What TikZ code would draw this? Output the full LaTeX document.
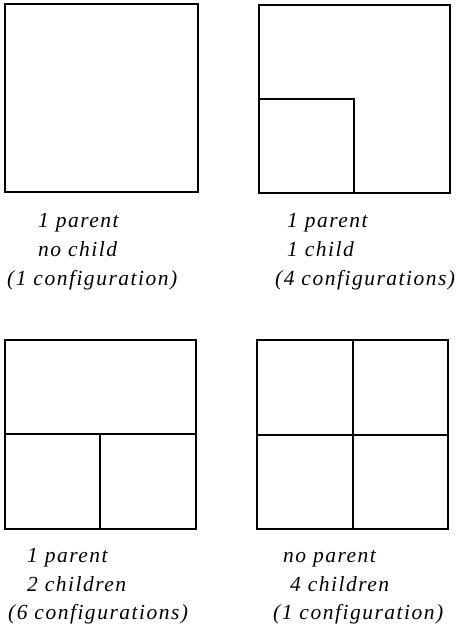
\documentclass[tikz,border=0pt]{standalone}
\usepackage{fontspec}
\newfontfamily\lblfont[LetterSpace=7]{Liberation Serif}
\begin{document}
\begin{tikzpicture}[x=1pt,y=-1pt,
  frame/.style={line width=1.1pt,draw=black},
  lbl/.style={anchor=base west,inner sep=0pt,font=\lblfont\itshape\fontsize{21.5}{26}\selectfont}]
\useasboundingbox (0,0) rectangle (465,628);
% top-left
\draw[frame] (5,4) rectangle (198,192);
% top-right
\draw[frame] (259,5) rectangle (450,193);
\draw[frame] (259,99) -- (354,99) -- (354,193);
% bottom-left
\draw[frame] (5,340) rectangle (196,529);
\draw[frame] (5,434) -- (196,434);
\draw[frame] (100,434) -- (100,529);
% bottom-right
\draw[frame] (257,340) rectangle (448,529);
\draw[frame] (257,435) -- (448,435);
\draw[frame] (353,340) -- (353,529);
% labels
\node[lbl] (a1) at (38,227) {1 parent};
\node[lbl] (a2) at (38,256) {no child};
\node[lbl] (a3) at (7,285) {(1 configuration)};
\node[lbl] (b1) at (287,227) {1 parent};
\node[lbl] (b2) at (287,256) {1 child};
\node[lbl] (b3) at (275,285) {(4 configurations)};
\node[lbl] (c1) at (27,562) {1 parent};
\node[lbl] (c2) at (27,591) {2 children};
\node[lbl] (c3) at (8,619) {(6 configurations)};
\node[lbl] (d1) at (283,562) {no parent};
\node[lbl] (d2) at (290,591) {4 children};
\node[lbl] (d3) at (273,619) {(1 configuration)};
\end{tikzpicture}
\end{document}
